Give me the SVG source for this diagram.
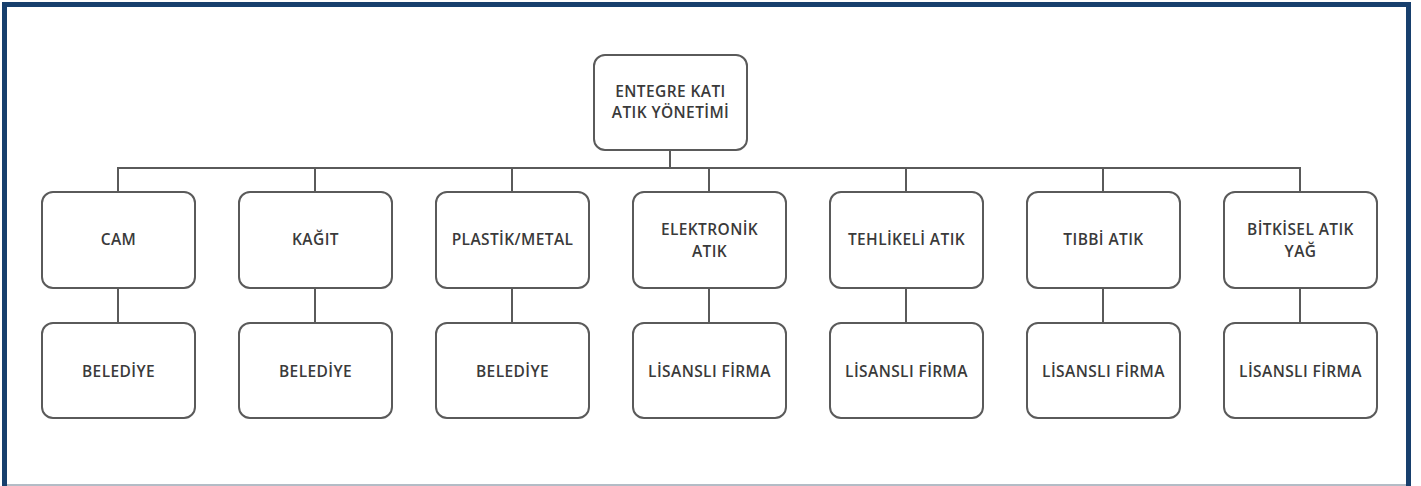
<svg xmlns="http://www.w3.org/2000/svg" width="1421" height="486" viewBox="0 0 1421 486">
<style>
.box{fill:#fff;stroke:#5a5a5a;stroke-width:2}
.conn{fill:none;stroke:#5a5a5a;stroke-width:2}
.t{font-family:"Open Sans","Liberation Sans",sans-serif;font-weight:600;font-size:15.5px;letter-spacing:0.4px;fill:#3a3a3a;text-anchor:middle}
</style>
<rect x="0" y="0" width="1421" height="486" fill="#fff"/>
<path d="M4.5 486 V4.5 H1408.5 V486" fill="none" stroke="#173f6d" stroke-width="5"/>
<line x1="7" y1="485" x2="1406" y2="485" stroke="#9aa6b3" stroke-width="1.5"/>
<g id="connectors">
<path class="conn" d="M670 150 V168 M118 192 V168 H1300 V192 M315 168 V192 M512 168 V192 M709 168 V192 M906 168 V192 M1103 168 V192"/>
<path class="conn" d="M118 288 V323 M315 288 V323 M512 288 V323 M709 288 V323 M906 288 V323 M1103 288 V323 M1300 288 V323"/>
</g>
<g id="root"><rect class="box" x="594" y="55" width="153" height="95" rx="11"/><text class="t" x="670.5" y="97">ENTEGRE KATI</text><text class="t" x="670.5" y="118">ATIK YÖNETİMİ</text></g>
<g id="cam"><rect class="box" x="42" y="192" width="153" height="96" rx="11"/><text class="t" x="118.5" y="245">CAM</text></g>
<g id="kagit"><rect class="box" x="239" y="192" width="153" height="96" rx="11"/><text class="t" x="315.5" y="245">KAĞIT</text></g>
<g id="plastik"><rect class="box" x="436" y="192" width="153" height="96" rx="11"/><text class="t" x="512.5" y="245">PLASTİK/METAL</text></g>
<g id="elektronik"><rect class="box" x="633" y="192" width="153" height="96" rx="11"/><text class="t" x="709.5" y="235">ELEKTRONİK</text><text class="t" x="709.5" y="257">ATIK</text></g>
<g id="tehlikeli"><rect class="box" x="830" y="192" width="153" height="96" rx="11"/><text class="t" x="906.5" y="245">TEHLİKELİ ATIK</text></g>
<g id="tibbi"><rect class="box" x="1027" y="192" width="153" height="96" rx="11"/><text class="t" x="1103.5" y="245">TIBBİ ATIK</text></g>
<g id="bitkisel"><rect class="box" x="1224" y="192" width="153" height="96" rx="11"/><text class="t" x="1300.5" y="235">BİTKİSEL ATIK</text><text class="t" x="1300.5" y="257">YAĞ</text></g>
<g id="belediye1"><rect class="box" x="42" y="323" width="153" height="95" rx="11"/><text class="t" x="118.5" y="377">BELEDİYE</text></g>
<g id="belediye2"><rect class="box" x="239" y="323" width="153" height="95" rx="11"/><text class="t" x="315.5" y="377">BELEDİYE</text></g>
<g id="belediye3"><rect class="box" x="436" y="323" width="153" height="95" rx="11"/><text class="t" x="512.5" y="377">BELEDİYE</text></g>
<g id="firma1"><rect class="box" x="633" y="323" width="153" height="95" rx="11"/><text class="t" x="709.5" y="377">LİSANSLI FİRMA</text></g>
<g id="firma2"><rect class="box" x="830" y="323" width="153" height="95" rx="11"/><text class="t" x="906.5" y="377">LİSANSLI FİRMA</text></g>
<g id="firma3"><rect class="box" x="1027" y="323" width="153" height="95" rx="11"/><text class="t" x="1103.5" y="377">LİSANSLI FİRMA</text></g>
<g id="firma4"><rect class="box" x="1224" y="323" width="153" height="95" rx="11"/><text class="t" x="1300.5" y="377">LİSANSLI FİRMA</text></g>
</svg>
